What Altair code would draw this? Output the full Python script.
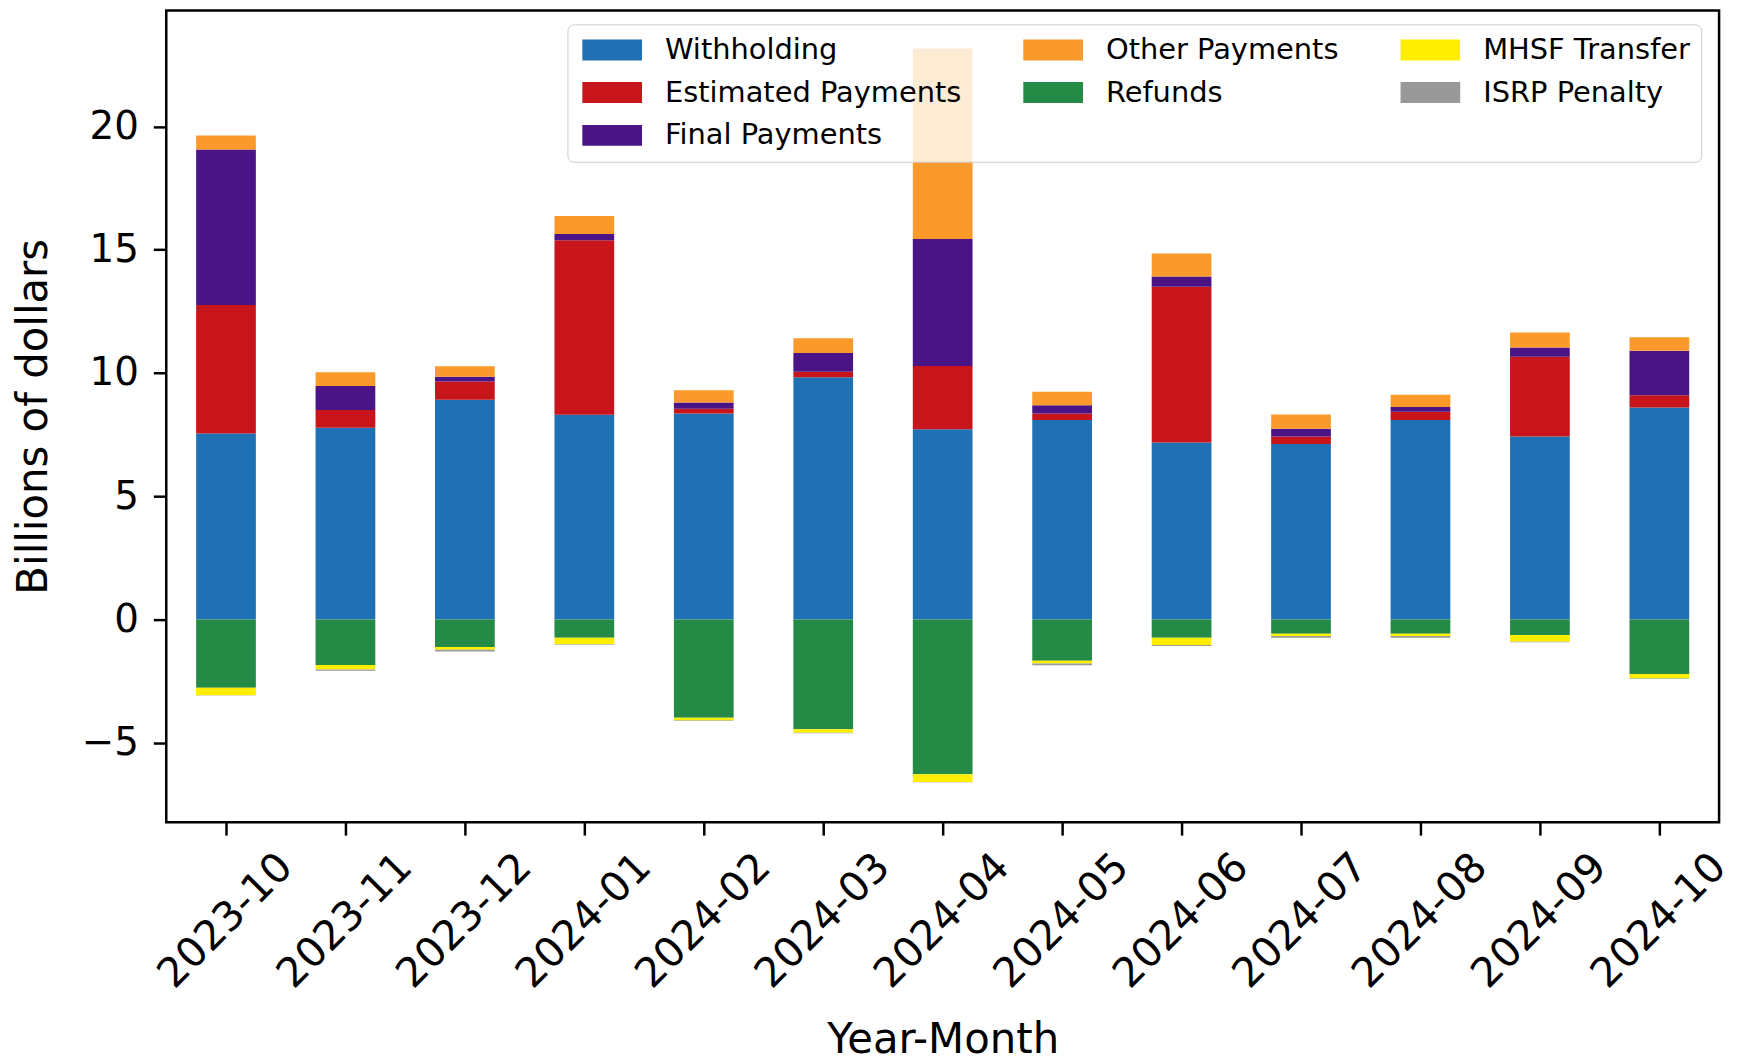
import altair as alt
import pandas as pd

months = ["2023-10", "2023-11", "2023-12", "2024-01", "2024-02", "2024-03", "2024-04",
          "2024-05", "2024-06", "2024-07", "2024-08", "2024-09", "2024-10"]

series_names = ["Withholding", "Estimated Payments", "Final Payments", "Other Payments",
                "Refunds", "MHSF Transfer", "ISRP Penalty"]

withholding = [7.55, 7.78, 8.92, 8.31, 8.36, 9.83, 7.72, 8.09, 7.18, 7.12, 8.09, 7.43, 8.60]
estimated = [5.21, 0.72, 0.74, 7.08, 0.19, 0.22, 2.57, 0.27, 6.32, 0.31, 0.34, 3.23, 0.50]
final = [6.31, 0.97, 0.19, 0.25, 0.26, 0.76, 5.15, 0.33, 0.42, 0.31, 0.19, 0.38, 1.80]
other = [0.57, 0.56, 0.43, 0.73, 0.49, 0.60, 7.73, 0.55, 0.93, 0.58, 0.50, 0.60, 0.55]
refunds = [-2.77, -1.84, -1.11, -0.74, -3.98, -4.45, -6.28, -1.67, -0.74, -0.58, -0.58, -0.63, -2.21]
mhsf = [-0.30, -0.19, -0.12, -0.26, -0.12, -0.14, -0.31, -0.11, -0.29, -0.09, -0.09, -0.27, -0.18]
isrp = [-0.01, -0.05, -0.07, -0.02, -0.02, -0.02, -0.01, -0.07, -0.04, -0.07, -0.07, -0.02, -0.02]

series_values = dict(zip(series_names,
                         [withholding, estimated, final, other, refunds, mhsf, isrp]))

colors = {
    "Withholding": "#2070b4",
    "Estimated Payments": "#c8151b",
    "Final Payments": "#4a1486",
    "Other Payments": "#fb9a2b",
    "Refunds": "#238b45",
    "MHSF Transfer": "#ffee00",
    "ISRP Penalty": "#999999",
}

# domain order chosen so that Vega's 3-column legend grid reads, column by column,
# Withholding / Estimated / Final | Other / Refunds | MHSF / ISRP
legend_order = ["Withholding", "Estimated Payments", "ISRP Penalty",
                "Other Payments", "Refunds", "Final Payments",
                "MHSF Transfer"]

rows = []
for k, name in enumerate(series_names):
    for m, v in zip(months, series_values[name]):
        rows.append({"month": m, "series": name, "value": v, "idx": k})
df = pd.DataFrame(rows)

FONT = "DejaVu Sans"
sym = "M-1,-1H4.71V1H-1Z"

chart = alt.Chart(df).mark_bar().encode(
    x=alt.X("month:N", sort=months,
            scale=alt.Scale(paddingInner=0.5, paddingOuter=0.25),
            axis=alt.Axis(title="Year-Month", labelAngle=315, labelAlign="center",
                          labelBaseline="middle", labelPadding=86, labelFontSize=41,
                          titleFontSize=42, tickSize=13, tickWidth=2.5, tickColor="black",
                          domain=False, titleY=231, titleBaseline="alphabetic",
                          labelOverlap=False, labelBound=False, labelFlush=False)),
    y=alt.Y("value:Q", stack="zero",
            scale=alt.Scale(domain=[-8.22, 24.71], nice=False, zero=False),
            axis=alt.Axis(title="Billions of dollars", values=[-5, 0, 5, 10, 15, 20],
                          grid=False, labelFontSize=39, titleFontSize=42, tickSize=13,
                          tickWidth=2.5, tickColor="black", domain=False, labelPadding=15,
                          titleX=-120, titleBaseline="alphabetic")),
    color=alt.Color("series:N",
                    scale=alt.Scale(domain=legend_order,
                                    range=[colors[s] for s in legend_order]),
                    legend=alt.Legend(title=None, orient="none", legendX=403, legendY=14,
                                      columns=3, symbolType=sym, symbolSize=441,
                                      symbolStrokeWidth=0, symbolOpacity=1,
                                      labelFontSize=29, labelFont=FONT,
                                      labelColor="black", labelOffset=58, rowPadding=13,
                                      columnPadding=58, padding=11,
                                      fillColor="rgba(255,255,255,0.8)",
                                      strokeColor="#cccccc", cornerRadius=6,
                                      zindex=1, labelLimit=600)),
    order=alt.Order("idx:Q", sort="ascending"),
).properties(
    width=1560, height=815.5,
    autosize=alt.AutoSizeParams(type="none"),
    padding={"left": 159, "top": 0, "right": 18, "bottom": 240},
).configure_view(
    stroke="black", strokeWidth=2.5
).configure_axis(
    labelFont=FONT, titleFont=FONT, labelColor="black", titleColor="black",
    titleFontWeight="normal"
)

chart.save("out.html", embed_options={"renderer": "svg", "actions": False})
